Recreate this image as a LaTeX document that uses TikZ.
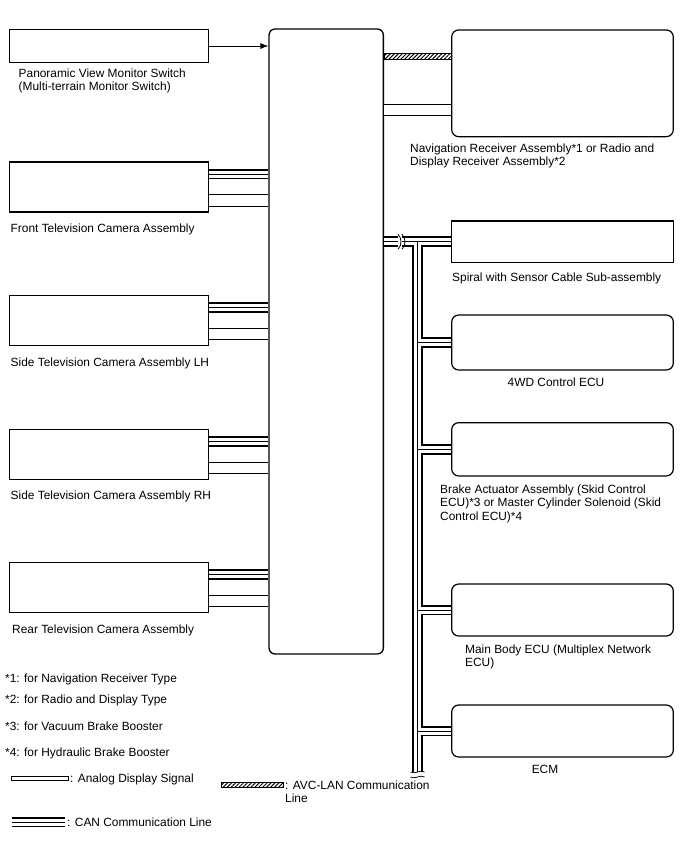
\documentclass[tikz,border=0pt]{standalone}
\usepackage{fontspec}
\setmainfont{Liberation Sans}
\usepackage{tikz}
\usetikzlibrary{positioning,arrows.meta,patterns.meta}

\begin{document}
\begin{tikzpicture}[x=1pt, y=-1pt, >={Latex[length=8pt,width=6pt]},
	font=\fontsize{11.9}{13.5}\selectfont,
	cambox/.style={draw, line width=1.2pt, rectangle, inner sep=0pt, minimum width=199pt},
	ecubox/.style={draw, line width=1.2pt, rectangle, rounded corners=7pt, inner sep=0pt, minimum width=221.6pt},
	lbl/.style={inner sep=0pt, anchor=base west, align=left},
	can/.style={line width=10.5pt, postaction={draw, white, line width=7pt}, postaction={draw, black, line width=0.8pt}},
	analog/.style={double, double distance=10.5pt, line width=1pt},
	avc/.style={draw, line width=0.8pt, pattern={Lines[angle=45, distance=2.8pt, line width=1pt]}}]
	\useasboundingbox (0,0) rectangle (688,852);

	% switch and cameras on the left
	\node[cambox, minimum height=33pt] (sw) at (109,46) {};
	\node[cambox, minimum height=50pt] (front) at (109,187) {};
	\node[cambox, minimum height=50pt] (lh) at (109,320.7) {};
	\node[cambox, minimum height=50pt] (rh) at (109,454.3) {};
	\node[cambox, minimum height=50pt] (rear) at (109,587.7) {};

	% monitor ECU in the middle
	\node[draw, line width=1.3pt, rounded corners=6pt, inner sep=0pt, minimum width=114.3pt, minimum height=625pt] (ecu) at (326.2,341.5) {};

	% receivers and ECUs on the right
	\node[ecubox, minimum height=106.7pt] (nav) at (562.5,83.3) {};
	\node[ecubox, sharp corners, minimum height=41.3pt] (spiral) at (562.5,241.7) {};
	\node[ecubox, minimum height=55pt] (wd) at (562.5,342.5) {};
	\node[ecubox, minimum height=53.3pt] (brake) at (562.5,449.3) {};
	\node[ecubox, minimum height=52pt] (body) at (562.5,610) {};
	\node[ecubox, minimum height=52pt] (ecm) at (562.5,731) {};

	% labels (base = last line)
	\node[lbl] (swl) at (18.5,90.7) {Panoramic View Monitor Switch\\(Multi-terrain Monitor Switch)};
	\node[lbl] (frontl) at (10.5,232.5) {Front Television Camera Assembly};
	\node[lbl] (lhl) at (10.5,366.2) {Side Television Camera Assembly LH};
	\node[lbl] (rhl) at (10.5,499.8) {Side Television Camera Assembly RH};
	\node[lbl] (rearl) at (12,633.2) {Rear Television Camera Assembly};
	\node[lbl] (navl) at (410,165.8) {Navigation Receiver Assembly*1 or Radio and\\Display Receiver Assembly*2};
	\node[lbl] (spiral_l) at (452,281.3) {Spiral with Sensor Cable Sub-assembly};
	\node[lbl, anchor=base] (wdl) at (556,386.3) {4WD Control ECU};
	\node[lbl] (brakel) at (440,520) {Brake Actuator Assembly (Skid Control\\ECU)*3 or Master Cylinder Solenoid (Skid\\Control ECU)*4};
	\node[lbl] (bodyl) at (465,666.5) {Main Body ECU (Multiplex Network\\ECU)};
	\node[lbl, anchor=base] (ecml) at (545,773) {ECM};

	% switch signal
	\draw[->, line width=0.8pt] (sw) -- (sw -| ecu.west);

	% camera lines
	\foreach \cam in {front,lh,rh,rear}{
		\draw[can] ([yshift=13pt]\cam.east) -- ([yshift=13pt]\cam.east -| ecu.west);
		\draw[analog] ([yshift=-13.5pt]\cam.east) -- ([yshift=-13.5pt]\cam.east -| ecu.west);
	}

	% navigation lines
	\path[avc] ([yshift=30pt]nav.west -| ecu.east) rectangle ([yshift=24pt]nav.west);
	\draw[analog] ([yshift=-26.5pt]nav.west -| ecu.east) -- ([yshift=-26.5pt]nav.west);

	% CAN bus
	\coordinate (brk) at (400,241.7);
	\coordinate (bus) at (417.5,241.7);
	\coordinate (busend) at (417.5,772);
	\draw[can] (spiral.west -| ecu.east) -- ([xshift=-2pt]brk)
		([xshift=2pt]brk) -- (spiral.west)
		(bus) -- (busend)
		(bus |- wd.west) -- (wd.west)
		(bus |- brake.west) -- (brake.west)
		(bus |- body.west) -- (body.west)
		(bus |- ecm.west) -- (ecm.west);
	\foreach \dx in {-2,2}
		\draw[line width=0.8pt] ([xshift=\dx pt, yshift=7.5pt]brk) .. controls +(4,4) and +(4,-4) .. ([xshift=\dx pt, yshift=-7.5pt]brk);
	\foreach \dy in {0,5}
		\draw[line width=0.8pt] ([xshift=-7pt, yshift=-\dy pt]busend) .. controls +(4,3) and +(-4,-3) .. ([xshift=7pt, yshift=-\dy pt]busend);

	% notes and legend
	\node[lbl] (fn1) at (5,682.3) {*1: for Navigation Receiver Type};
	\node[lbl] (fn2) at (5,703.3) {*2: for Radio and Display Type};
	\node[lbl] (fn3) at (5,730.3) {*3: for Vacuum Brake Booster};
	\node[lbl] (fn4) at (5,756.3) {*4: for Hydraulic Brake Booster};
	\node[lbl] (lgana) at (70,782.5) {: Analog Display Signal};
	\node[lbl] (lgavc) at (285,802.8) {: AVC-LAN Communication\\Line};
	\node[lbl] (lgcan) at (67,826.3) {: CAN Communication Line};
	\draw[line width=0.6pt] ([xshift=-58.3pt, yshift=1.8pt]lgana.base west) rectangle ([xshift=-1.7pt, yshift=5.8pt]lgana.base west);
	\path[avc] ([xshift=-63.3pt, yshift=15.5pt]lgavc.base west) rectangle ([xshift=-1.7pt, yshift=20pt]lgavc.base west);
	\draw[can] ([xshift=-55.3pt, yshift=4.3pt]lgcan.base west) -- ([xshift=-2pt, yshift=4.3pt]lgcan.base west);
\end{tikzpicture}
\end{document}
